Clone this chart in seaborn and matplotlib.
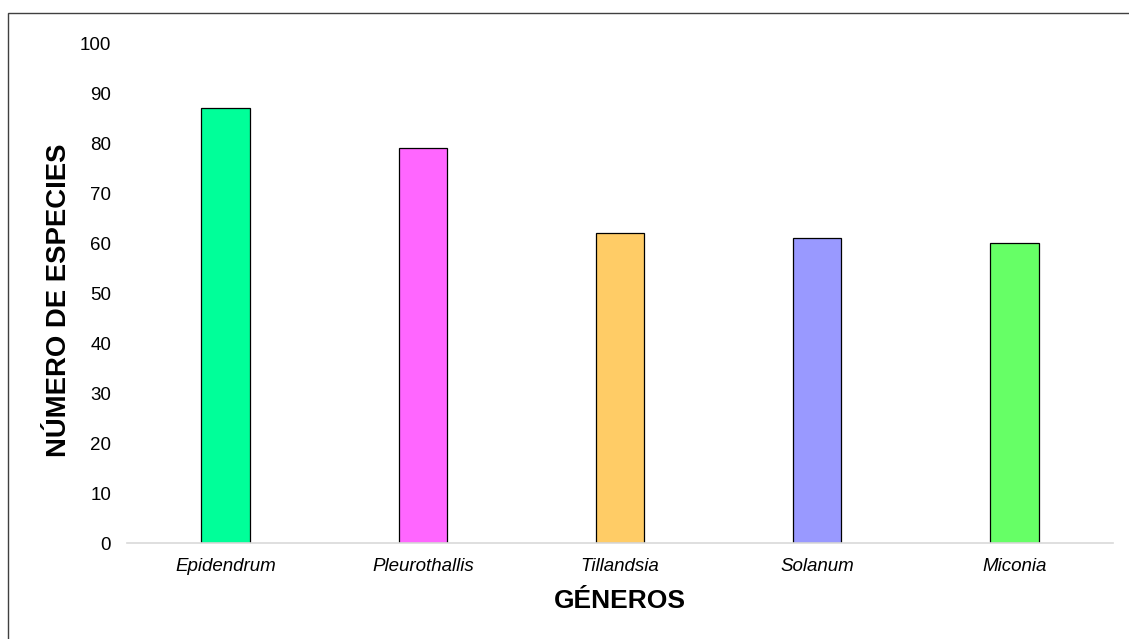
import matplotlib
matplotlib.use("Agg")
import matplotlib.pyplot as plt
from matplotlib.patches import Rectangle
import seaborn as sns
import pandas as pd

generos = ["Epidendrum", "Pleurothallis", "Tillandsia", "Solanum", "Miconia"]
especies = [87, 79, 62, 61, 60]
colores = ["#00FF99", "#FF66FF", "#FFCC66", "#9999FF", "#66FF66"]
yticks = [0, 10, 20, 30, 40, 50, 60, 70, 80, 90, 100]

sns.set_theme(style="white")
plt.rcParams["font.family"] = ["Liberation Sans", "DejaVu Sans"]

W, H = 1129, 639
fig = plt.figure(figsize=(W / 100, H / 100), dpi=100)
ax = fig.add_axes([127 / W, 1 - 543 / H, (1113 - 127) / W, (543 - 43) / H])

df = pd.DataFrame({"genero": generos, "n": especies})
sns.barplot(data=df, x="genero", y="n", hue="genero", palette=colores,
            width=0.245, edgecolor="black", linewidth=0.9, legend=False,
            ax=ax, saturation=1)

ax.set_ylim(0, 100)
ax.set_xlim(-0.5, len(generos) - 0.5)
ax.set_yticks(yticks)
ax.set_yticklabels([str(v) for v in yticks], fontsize=13.5, color="#000000")
ax.set_xticks(range(len(generos)))
ax.set_xticklabels(generos, fontsize=13.5, style="italic", color="#000000")
ax.tick_params(axis="x", length=0, pad=11)
ax.tick_params(axis="y", length=0, pad=11.5)
for s in ["top", "right", "left"]:
    ax.spines[s].set_visible(False)
ax.spines["bottom"].set_color("#d9d9d9")
ax.spines["bottom"].set_linewidth(1.2)

ax.set_xlabel("GÉNEROS", fontsize=19, fontweight="bold", labelpad=10, color="#000000")
ax.set_ylabel("NÚMERO DE ESPECIES", fontsize=19.8, fontweight="bold", color="#000000")
ax.yaxis.set_label_coords((72 - 127) / (1113 - 127), (543 - 300) / 500)

fig.add_artist(Rectangle((7.5 / W, -0.1), 2, 1.1 - 13.5 / H,
                         transform=fig.transFigure, fill=False,
                         edgecolor="#404040", linewidth=1))

fig.savefig("out.png", dpi=100)
